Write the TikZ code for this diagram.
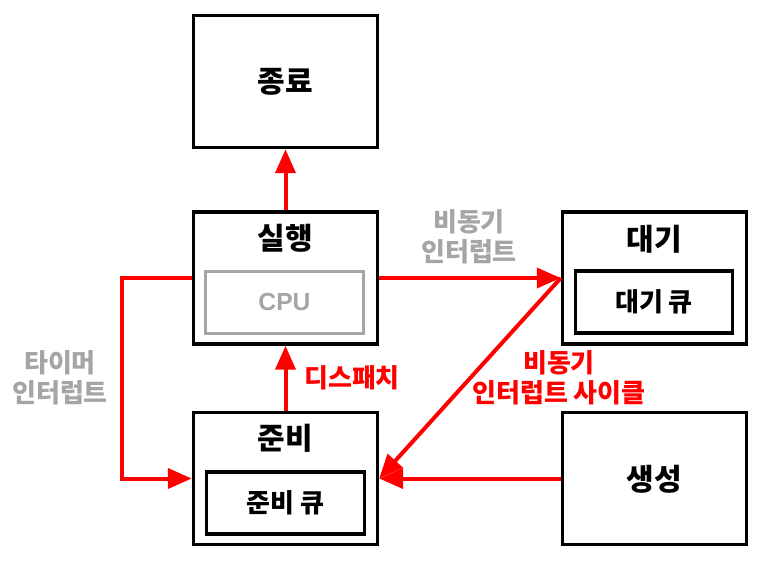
\documentclass[tikz,border=0pt]{standalone}
\usepackage{fontspec}
\setmainfont{Noto Sans CJK KR}
\newfontfamily\cpufont{Liberation Sans}
\usetikzlibrary{arrows.meta}
\definecolor{lgray}{RGB}{165,165,165}
\begin{document}
\begin{tikzpicture}[x=0.75pt,y=-0.75pt,
  outerbox/.style={draw=black,line width=2.6pt,minimum width=138pt,minimum height=99pt,inner sep=0pt},
  innerbox/.style={draw=black,line width=2.4pt,inner sep=0pt,minimum width=118pt,minimum height=46.5pt},
  cpubox/.style={draw=lgray,line width=2.2pt,inner sep=0pt,minimum width=118.5pt,minimum height=47pt},
  titletext/.style={font=\bfseries\fontsize{22.5}{26}\selectfont,inner sep=0pt},
  innertext/.style={font=\bfseries\fontsize{19.5}{23}\selectfont,inner sep=0pt},
  lbl/.style={font=\bfseries\fontsize{19.5}{22.5}\selectfont,align=center,inner sep=0pt},
  redarrow/.style={draw=red,line width=3pt,-{Triangle[length=18pt,width=15pt]}},
]
\useasboundingbox (0,0) rectangle (763,561);
% outer boxes
\node[outerbox] (end) at (285.5,81.5) {};
\node[outerbox] (run) at (285.5,278) {};
\node[outerbox] (ready) at (285.5,478.5) {};
\node[outerbox] (wait) at (654.5,278) {};
\node[outerbox] (new) at (654.5,478.5) {};
% titles
\node[titletext] (tend) at (285.5,82) {종료};
\node[titletext] (trun) at (285.5,238) {실행};
\node[titletext] (tready) at (285.5,438) {준비};
\node[titletext] (twait) at (654,239) {대기};
\node[titletext] (tnew) at (654,479) {생성};
% inner boxes
\node[cpubox] (cpu) at (284.5,302.5) {};
\node[font=\cpufont\bfseries\fontsize{18.5}{20}\selectfont,text=lgray,inner sep=0pt] (tcpu) at (284.5,302.5) {CPU};
\node[innerbox] (wq) at (654,302) {};
\node[innertext] (twq) at (654,302) {대기 큐};
\node[innerbox] (rq) at (285.5,503) {};
\node[innertext] (trq) at (285.5,503) {준비 큐};
% connectors
\coordinate (tm) at (122,278);
\draw[redarrow] (run.north) -- (end.south);
\draw[redarrow] (ready.north) -- (run.south);
\draw[redarrow] (run.east) -- (wait.west);
\draw[redarrow] (wait.west) -- (ready.east);
\draw[redarrow] (new.west) -- (ready.east);
\draw[redarrow] (run.west) -- (tm) |- (ready.west);
% labels
\node[lbl,text=lgray] (l1) at (469,237) {비동기\\인터럽트};
\node[lbl,text=red] (l2) at (559,378) {비동기\\인터럽트 사이클};
\node[lbl,text=lgray] (l3) at (60,378) {타이머\\인터럽트};
\node[lbl,text=red] (l4) at (352,378) {디스패치};
\end{tikzpicture}
\end{document}
